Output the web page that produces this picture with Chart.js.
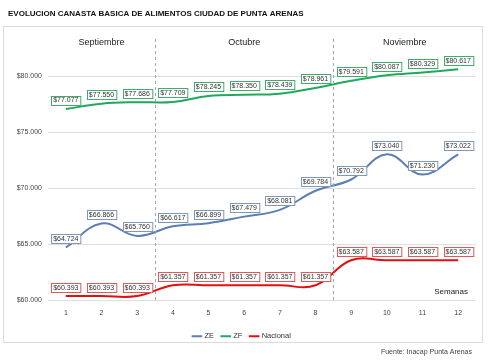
<!DOCTYPE html>
<html>
<head>
<meta charset="utf-8">
<script src="https://cdn.jsdelivr.net/npm/chart.js@4/dist/chart.umd.min.js"></script>
<style>
  body { margin: 0; background: #fff; }
  #wrap { position: relative; width: 492px; height: 360px; }
</style>
</head>
<body>
<div id="wrap"><canvas id="chart" width="492" height="360"></canvas></div>
<script>
const weeks = ["1", "2", "3", "4", "5", "6", "7", "8", "9", "10", "11", "12"];
const zeValues = [64724, 66866, 65760, 66617, 66899, 67479, 68081, 69784, 70792, 73040, 71230, 73022];
const zfValues = [77077, 77550, 77686, 77709, 78245, 78350, 78439, 78961, 79591, 80087, 80329, 80617];
const nacionalValues = [60393, 60393, 60393, 61357, 61357, 61357, 61357, 61357, 63587, 63587, 63587, 63587];
const yTicks = [60000, 65000, 70000, 75000, 80000];
const months = ["Septiembre", "Octubre", "Noviembre"];
const monthStart = [0, 3, 8];   // first week index of each month
const monthEnd = [2, 7, 11];

const fmt = v => "$" + Math.round(v).toString().replace(/\B(?=(\d{3})+(?!\d))/g, ".");

// frame, title, footer, month labels, dashed separators
const decorPlugin = {
  id: "decor",
  beforeDraw(chart) {
    const ctx = chart.ctx;
    ctx.save();
    ctx.fillStyle = "#fff";
    ctx.fillRect(0, 0, chart.width, chart.height);
    ctx.strokeStyle = "#dcdcdc";
    ctx.lineWidth = 1;
    ctx.strokeRect(3.5, 26.5, 479, 316);
    ctx.fillStyle = "#111";
    ctx.font = "bold 8px 'Liberation Sans', Arial, sans-serif";
    ctx.textBaseline = "middle";
    ctx.fillText("EVOLUCION CANASTA BASICA DE ALIMENTOS CIUDAD DE PUNTA ARENAS", 8, 14);
    ctx.fillStyle = "#444";
    ctx.font = "7px 'Liberation Sans', Arial, sans-serif";
    ctx.textAlign = "right";
    ctx.fillText("Fuente: Inacap Punta Arenas", 472, 352);
    ctx.restore();
  },
  afterDatasetsDraw(chart) {
    const ctx = chart.ctx;
    const x = chart.scales.x;
    const area = chart.chartArea;
    ctx.save();
    // separators
    ctx.strokeStyle = "#9aa4b4";
    ctx.setLineDash([3, 3]);
    ctx.lineWidth = 1;
    for (let i = 1; i < monthStart.length; i++) {
      const px = Math.round((x.getPixelForValue(monthStart[i] - 1) + x.getPixelForValue(monthStart[i])) / 2) + 0.5;
      ctx.beginPath();
      ctx.moveTo(px, area.top + 2);
      ctx.lineTo(px, area.bottom);
      ctx.stroke();
    }
    ctx.setLineDash([]);
    // month names
    ctx.fillStyle = "#222";
    ctx.font = "9px 'Liberation Sans', Arial, sans-serif";
    ctx.textAlign = "center";
    ctx.textBaseline = "middle";
    months.forEach((m, i) => {
      const cx = (x.getPixelForValue(monthStart[i]) + x.getPixelForValue(monthEnd[i])) / 2;
      ctx.fillText(m, cx, 43);
    });
    ctx.font = "8px 'Liberation Sans', Arial, sans-serif";
    ctx.textAlign = "right";
    ctx.fillText("Semanas", 468, 292);
    ctx.restore();
  }
};

// value boxes above each point
const labelPlugin = {
  id: "valueBoxes",
  afterDatasetsDraw(chart) {
    const ctx = chart.ctx;
    ctx.save();
    ctx.font = "7px 'Liberation Sans', Arial, sans-serif";
    ctx.textAlign = "center";
    ctx.textBaseline = "middle";
    chart.data.datasets.forEach((ds, di) => {
      const meta = chart.getDatasetMeta(di);
      meta.data.forEach((pt, i) => {
        const txt = fmt(ds.data[i]);
        const w = ctx.measureText(txt).width + 4;
        const h = 9;
        const cx = pt.x;
        const cy = pt.y - 9;
        const bx = Math.round(cx - w / 2) + 0.5;
        const by = Math.round(cy - h / 2) + 0.5;
        ctx.fillStyle = "#fff";
        ctx.fillRect(bx, by, w, h);
        ctx.strokeStyle = ds.boxColor;
        ctx.lineWidth = 1;
        ctx.strokeRect(bx, by, w, h);
        ctx.fillStyle = "#333";
        ctx.fillText(txt, cx, cy + 0.5);
      });
    });
    ctx.restore();
  }
};

new Chart(document.getElementById("chart"), {
  type: "line",
  data: {
    labels: weeks,
    datasets: [
      { label: "ZE", data: zeValues, borderColor: "#5b7fb3", boxColor: "#7f97b8" },
      { label: "ZF", data: zfValues, borderColor: "#20a95a", boxColor: "#3cae6a" },
      { label: "Nacional", data: nacionalValues, borderColor: "#e01010", boxColor: "#e05858" }
    ].map(d => Object.assign(d, {
      borderWidth: 2,
      pointRadius: 0,
      tension: 0.4,
      fill: false
    }))
  },
  options: {
    responsive: false,
    animation: false,
    layout: { padding: { left: 8, right: 16, top: 37, bottom: 10 } },
    plugins: {
      legend: {
        position: "bottom",
        labels: {
          usePointStyle: true,
          pointStyle: "line",
          boxWidth: 14,
          padding: 8,
          color: "#333",
          font: { family: "'Liberation Sans', Arial, sans-serif", size: 7.5 }
        }
      },
      tooltip: { enabled: false }
    },
    scales: {
      x: {
        offset: true,
        grid: { display: false, drawTicks: false },
        border: { display: false },
        ticks: {
          color: "#444",
          padding: 8,
          font: { family: "'Liberation Sans', Arial, sans-serif", size: 7 }
        },
        afterFit(scale) { scale.height = 24; }
      },
      y: {
        min: 60000,
        max: 83500,
        grid: { color: "#dedede", drawTicks: false },
        border: { display: false },
        ticks: {
          padding: 6,
          color: "#444",
          font: { family: "'Liberation Sans', Arial, sans-serif", size: 7 },
          callback: v => fmt(v)
        },
        afterBuildTicks(scale) {
          scale.ticks = yTicks.map(v => ({ value: v }));
        },
        afterFit(scale) { scale.width = 40; }
      }
    }
  },
  plugins: [decorPlugin, labelPlugin]
});
</script>
</body>
</html>
